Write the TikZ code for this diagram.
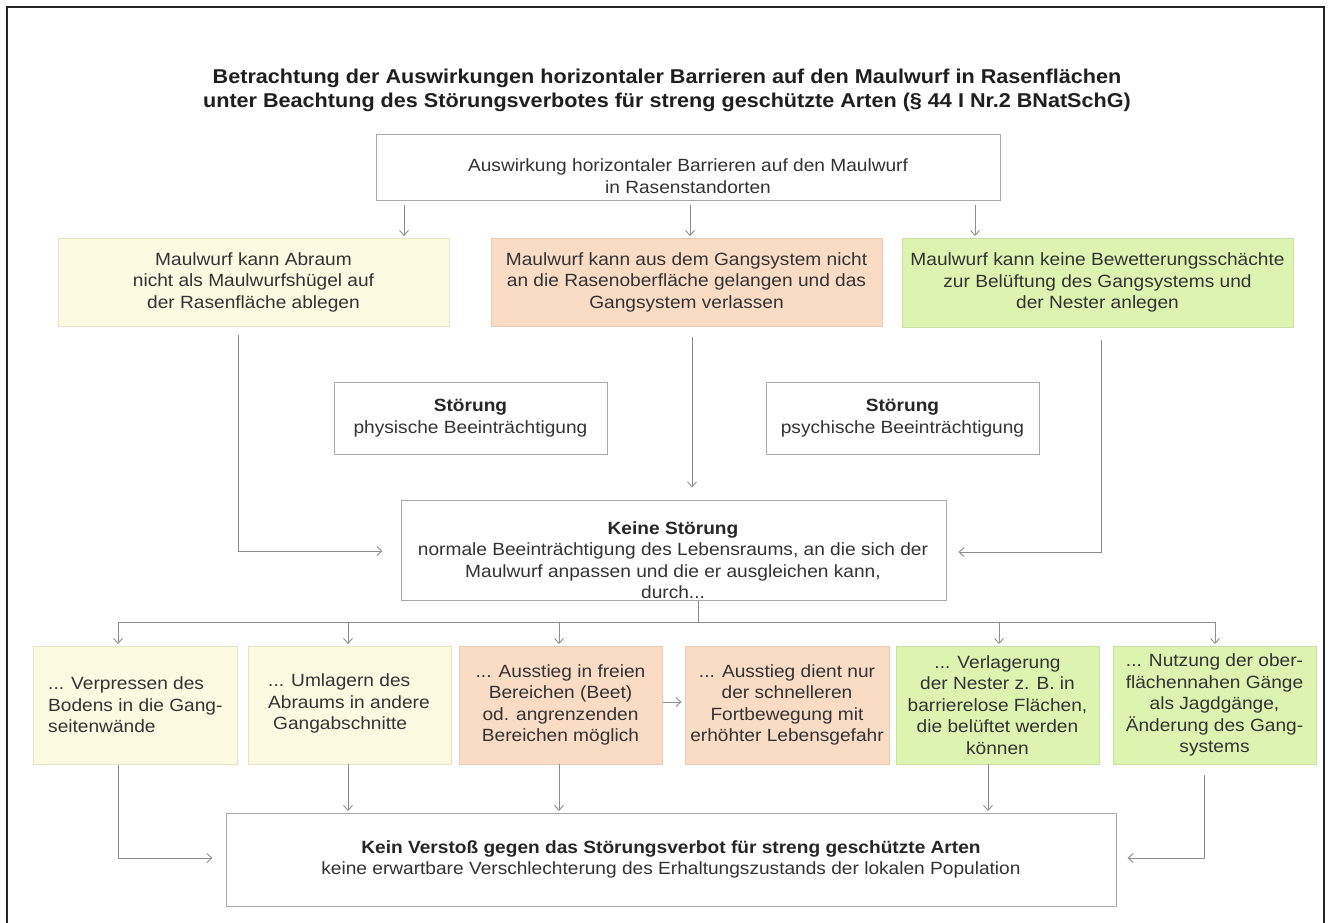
\documentclass[tikz,border=0pt]{standalone}
\usepackage{fontspec}
\setmainfont{Liberation Sans}[FakeStretch=1.08]
\usetikzlibrary{arrows.meta}
\definecolor{yelf}{HTML}{FCFAE1}
\definecolor{yeld}{HTML}{E6E3C6}
\definecolor{oraf}{HTML}{FADCC5}
\definecolor{orad}{HTML}{E9CBB2}
\definecolor{grnf}{HTML}{DDF4B1}
\definecolor{grnd}{HTML}{C9E0A2}
\definecolor{linec}{HTML}{8C8C8C}
\definecolor{boxl}{HTML}{A8A8A8}
\definecolor{txtc}{HTML}{333333}
\newcommand\mybox[7]{\node[#2, minimum width={#5pt-#3pt}, minimum height={#6pt-#4pt}] (#1) at ({(#3+#5)/2},{(#4+#6)/2}) {#7};}
\begin{document}
\begin{tikzpicture}[x=1pt,y=-1pt,
  box/.style={rectangle, inner sep=0pt, line width=1pt},
  wbox/.style={box, draw=boxl, fill=white},
  ybox/.style={box, draw=yeld, fill=yelf},
  obox/.style={box, draw=orad, fill=oraf},
  gbox/.style={box, draw=grnd, fill=grnf},
  txtn/.style={inner sep=0pt, align=center, text=txtc, font=\fontsize{17.7}{21.5}\selectfont},
  conn/.style={draw=linec, line width=0.9pt, -{Straight Barb[length=5pt,width=9pt]}, shorten >=1.5pt},
  plain/.style={draw=linec, line width=0.9pt},
]
\useasboundingbox (0,0) rectangle (1330,923);
\fill[white] (0,0) rectangle (1330,923);
\draw[line width=1.6pt, black!85] (7,923) -- (7,7) -- (1324,7) -- (1324,923);

\node[inner sep=0pt, align=center, text=black!88, font=\fontsize{20}{24}\selectfont\bfseries] (title) at (667,90)
  {Betrachtung der Auswirkungen horizontaler Barrieren auf den Maulwurf in Rasenflächen\\unter Beachtung des Störungsverbotes für streng geschützte Arten (§ 44 I Nr.2 BNatSchG)};

\mybox{top}{wbox}{376}{135}{1000}{200}{}
\node[txtn] (topt) at (688,176) {Auswirkung horizontaler Barrieren auf den Maulwurf\\in Rasenstandorten};

\mybox{yel}{ybox,txtn}{58}{238}{449}{326}{Maulwurf kann Abraum\\nicht als Maulwurfshügel auf\\der Rasenfläche ablegen}
\mybox{ora}{obox,txtn}{491}{238}{882}{326}{Maulwurf kann aus dem Gangsystem nicht\\an die Rasenoberfläche gelangen und das\\Gangsystem verlassen}
\mybox{grn}{gbox,txtn}{902}{238}{1293}{327}{Maulwurf kann keine Bewetterungsschächte\\zur Belüftung des Gangsystems und\\der Nester anlegen}

\mybox{phy}{wbox,txtn}{334}{382}{607}{454}{\textbf{\color{black!85}Störung}\\physische Beeinträchtigung}
\mybox{psy}{wbox,txtn}{766}{382}{1039}{454}{\textbf{\color{black!85}Störung}\\psychische Beeinträchtigung}

\mybox{ks}{wbox}{401}{500}{946}{600}{}
\node[txtn] (kst) at (673,560) {\textbf{\color{black!85}Keine Störung}\\normale Beeinträchtigung des Lebensraums, an die sich der\\Maulwurf anpassen und die er ausgleichen kann,\\durch...};

\mybox{b1}{ybox}{33}{646}{237}{764}{}
\node[txtn, align=left, anchor=west] (b1t) at (48,705) {... Verpressen des\\Bodens in die Gang-\\seitenwände};
\mybox{b2}{ybox}{248}{646}{451}{764}{}
\node[txtn, align=left, anchor=west] (b2t) at (268,703.5) {... Umlagern des\\Abraums in andere\\\hspace*{5pt}Gangabschnitte};
\mybox{b3}{obox,txtn}{459}{646}{662}{764}{... Ausstieg in freien\\Bereichen (Beet)\\od. angrenzenden\\Bereichen möglich}
\mybox{b4}{obox,txtn}{685}{646}{889}{764}{... Ausstieg dient nur\\der schnelleren\\Fortbewegung mit\\erhöhter Lebensgefahr}
\mybox{b5}{gbox,txtn}{896}{646}{1099}{764}{... Verlagerung\\der Nester z. B. in\\barrierelose Flächen,\\die belüftet werden\\können}
\mybox{b6}{gbox,txtn}{1113}{646}{1316}{764}{... Nutzung der ober-\\flächennahen Gänge\\als Jagdgänge,\\Änderung des Gang-\\systems}

\mybox{fin}{wbox,txtn}{226}{813}{1116}{906}{\textbf{\color{black!85}Kein Verstoß gegen das Störungsverbot für streng geschützte Arten}\\keine erwartbare Verschlechterung des Erhaltungszustands der lokalen Population}

% connectors top -> row 2
\coordinate (c1) at (404,205);
\coordinate (c2) at (690,205);
\coordinate (c3) at (975,205);
\draw[conn] (c1) -- (c1 |- yel.north);
\draw[conn] (c2) -- (c2 |- ora.north);
\draw[conn] (c3) -- (c3 |- grn.north);

% row 2 -> Keine Stoerung
\coordinate (c4) at (238,335);
\coordinate (c4b) at (238,551);
\draw[conn, shorten >=18pt] (c4) -- (c4b) -- (c4b -| ks.west);
\coordinate (c5) at (692,337);
\draw[conn, shorten >=12pt] (c5) -- (c5 |- ks.north);
\coordinate (c6) at (1101,340);
\coordinate (c6b) at (1101,552);
\draw[conn, shorten >=12pt] (c6) -- (c6b) -- (c6b -| ks.east);

% branch
\coordinate (s0) at (698,622);
\draw[plain] (s0 |- ks.south) -- (s0);
\coordinate (bl) at (118,622);
\coordinate (d2) at (348,622);
\coordinate (d3) at (559,622);
\coordinate (d5) at (999,622);
\coordinate (br) at (1215,622);
\draw[plain] (bl) -- (br);
\draw[conn] (bl) -- (bl |- b1.north);
\draw[conn] (d2) -- (d2 |- b2.north);
\draw[conn] (d3) -- (d3 |- b3.north);
\draw[conn] (d5) -- (d5 |- b5.north);
\draw[conn] (br) -- (br |- b6.north);

\draw[conn, shorten >=3pt] ([yshift=3pt]b3.east) -- ([yshift=3pt]b4.west);

% bottom row -> final
\coordinate (e1) at (118,765);
\coordinate (e1b) at (118,858);
\draw[conn, shorten >=13pt] (e1) -- (e1b) -- (e1b -| fin.west);
\coordinate (e2) at (348,764);
\draw[conn] (e2) -- (e2 |- fin.north);
\coordinate (e3) at (559,764);
\draw[conn] (e3) -- (e3 |- fin.north);
\coordinate (e5) at (988,764);
\draw[conn] (e5) -- (e5 |- fin.north);
\coordinate (e6) at (1204,775);
\coordinate (e6b) at (1204,858);
\draw[conn, shorten >=11pt] (e6) -- (e6b) -- (e6b -| fin.east);
\end{tikzpicture}
\end{document}
